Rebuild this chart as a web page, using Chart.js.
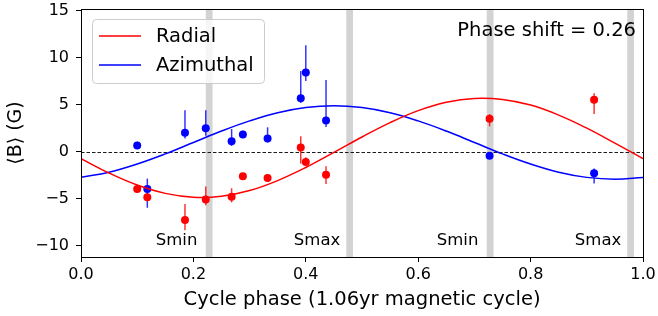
<!DOCTYPE html>
<html>
<head>
<meta charset="utf-8">
<script src="https://cdn.jsdelivr.net/npm/chart.js@4.4.0/dist/chart.umd.min.js"></script>
<style>
  body { margin: 0; background: #fff; }
</style>
</head>
<body>
<canvas id="phaseChart" width="658" height="316"></canvas>
<script>
// observed points (phase, field)
const phases = [0.100, 0.118, 0.185, 0.222, 0.268, 0.288, 0.332, 0.391, 0.400, 0.436, 0.727, 0.913];
const radial = [-3.97, -4.86, -7.27, -5.1, -4.8, -2.62, -2.8, 0.43, -1.1, -2.45, 3.48, 5.5];
const radialErrUp = [0.4, 0.4, 1.7, 1.4, 0.9, 0.3, 0.4, 1.2, 0.5, 0.9, 0.5, 0.7];
const radialErrDown = [0.4, 0.4, 1.1, 0.6, 0.6, 0.3, 0.4, 1.7, 0.4, 1.0, 0.8, 1.5];
const azimuthal = [0.64, -3.97, 1.99, 2.48, 1.1, 1.81, 1.38, 5.67, 8.4, 3.3, -0.43, -2.3];
const azimuthalErrUp = [0.4, 1.1, 2.4, 1.9, 1.3, 0.4, 1.2, 2.9, 2.9, 4.3, 0.3, 0.5];
const azimuthalErrDown = [0.3, 2.0, 0.6, 0.8, 0.5, 0.3, 0.4, 0.5, 0.9, 0.7, 0.3, 1.1];

const fitPhase = [0, 0.05, 0.1, 0.15, 0.2, 0.25, 0.3, 0.35, 0.4, 0.45, 0.5, 0.55, 0.6, 0.65, 0.7, 0.75, 0.8, 0.85, 0.9, 0.95, 1.0];
const radialFit = [-0.75, -2.28, -3.55, -4.44, -4.85, -4.74, -4.14, -3.08, -1.69, -0.09, 1.55, 3.08, 4.35, 5.24, 5.65, 5.54, 4.94, 3.88, 2.49, 0.9, -0.75];
const azimuthalFit = [-2.74, -2.19, -1.32, -0.24, 0.97, 2.18, 3.26, 4.13, 4.68, 4.87, 4.68, 4.13, 3.26, 2.18, 0.97, -0.24, -1.32, -2.19, -2.74, -2.93, -2.74];

// activity min / max markers
const bandCenters = [0.228, 0.478, 0.728, 0.978];
const bandLabels = ['Smin', 'Smax', 'Smin', 'Smax'];

const xTicks = [0, 0.2, 0.4, 0.6, 0.8, 1.0];
const yTicks = [-10, -5, 0, 5, 10, 15];
const phaseShift = '0.26';

const RED = '#ff0000';
const BLUE = '#0000ff';

Chart.defaults.font.family = "'DejaVu Sans', sans-serif";
Chart.defaults.color = '#000';

const toXY = (xs, ys) => xs.map((x, i) => ({ x: x, y: ys[i] }));

const extrasPlugin = {
  id: 'extras',
  beforeDatasetsDraw(chart) {
    const { ctx, chartArea: a, scales: { x, y } } = chart;
    ctx.save();
    // gray bands
    ctx.fillStyle = '#d3d3d3';
    bandCenters.forEach(c => {
      const x0 = x.getPixelForValue(c - 0.006);
      const x1 = x.getPixelForValue(c + 0.006);
      ctx.fillRect(x0, a.top, x1 - x0, a.bottom - a.top);
    });
    // zero line
    ctx.strokeStyle = '#000';
    ctx.lineWidth = 0.9;
    ctx.setLineDash([3.5, 2]);
    const y0 = Math.round(y.getPixelForValue(0)) + 0.5;
    ctx.beginPath();
    ctx.moveTo(a.left, y0);
    ctx.lineTo(a.right, y0);
    ctx.stroke();
    ctx.setLineDash([]);
    // error bars
    const bars = (vals, up, down, color) => {
      ctx.strokeStyle = color;
      ctx.lineWidth = 1.5;
      phases.forEach((p, i) => {
        const px = x.getPixelForValue(p);
        ctx.beginPath();
        ctx.moveTo(px, y.getPixelForValue(vals[i] + up[i]));
        ctx.lineTo(px, y.getPixelForValue(vals[i] - down[i]));
        ctx.stroke();
      });
    };
    bars(radial, radialErrUp, radialErrDown, 'rgba(255,0,0,0.8)');
    bars(azimuthal, azimuthalErrUp, azimuthalErrDown, 'rgba(0,0,255,0.8)');
    ctx.restore();
  },
  afterDatasetsDraw(chart) {
    const { ctx, chartArea: a, scales: { x } } = chart;
    ctx.save();
    // band labels
    ctx.fillStyle = '#000';
    ctx.font = "16.5px 'DejaVu Sans'";
    ctx.textAlign = 'center';
    ctx.textBaseline = 'middle';
    bandCenters.forEach((c, i) => {
      ctx.fillText(bandLabels[i], x.getPixelForValue(c - 0.058), a.bottom - 16);
    });
    // phase shift note
    ctx.textAlign = 'right';
    ctx.font = "19.5px 'DejaVu Sans'";
    ctx.fillText('Phase shift = ' + phaseShift, a.right - 7, a.top + 22);

    // legend
    const lx = a.left + 11, ly = a.top + 10, lw = 172, lh = 64;
    ctx.fillStyle = 'rgba(255,255,255,0.8)';
    ctx.strokeStyle = '#cccccc';
    ctx.lineWidth = 1;
    ctx.beginPath();
    ctx.roundRect(lx + 0.5, ly + 0.5, lw, lh, 4);
    ctx.fill();
    ctx.stroke();
    const items = chart.data.datasets.filter(d => d.inLegend);
    items.forEach((d, i) => {
      const ry = ly + 17 + i * 29;
      ctx.strokeStyle = d.borderColor;
      ctx.lineWidth = 1.5;
      ctx.beginPath();
      ctx.moveTo(lx + 7, ry);
      ctx.lineTo(lx + 49, ry);
      ctx.stroke();
      ctx.fillStyle = '#000';
      ctx.textAlign = 'left';
      ctx.fillText(d.label, lx + 64, ry + 1);
    });

    // frame
    ctx.strokeStyle = '#000';
    ctx.lineWidth = 1;
    ctx.strokeRect(Math.round(a.left) + 0.5, Math.round(a.top) + 0.5,
      Math.round(a.right - a.left), Math.round(a.bottom - a.top));
    ctx.restore();
  }
};

const ctx = document.getElementById('phaseChart').getContext('2d');

let phaseChart = new Chart(ctx, {
  type: 'line',
  data: {
    datasets: [
      { label: 'Radial', inLegend: true, data: toXY(fitPhase, radialFit), borderColor: RED, borderWidth: 1.5, pointRadius: 0, tension: 0.4, fill: false },
      { label: 'Azimuthal', inLegend: true, data: toXY(fitPhase, azimuthalFit), borderColor: BLUE, borderWidth: 1.5, pointRadius: 0, tension: 0.4, fill: false },
      { label: 'Radial obs', data: toXY(phases, radial), showLine: false, pointRadius: 4, pointBackgroundColor: RED, pointBorderColor: RED, pointBorderWidth: 0 },
      { label: 'Azimuthal obs', data: toXY(phases, azimuthal), showLine: false, pointRadius: 4, pointBackgroundColor: BLUE, pointBorderColor: BLUE, pointBorderWidth: 0 }
    ]
  },
  options: {
    responsive: false,
    animation: false,
    devicePixelRatio: 1,
    layout: { padding: { left: 0, right: 15, top: 9, bottom: 0 } },
    plugins: { legend: { display: false }, tooltip: { enabled: false } },
    scales: {
      x: {
        type: 'linear', min: 0, max: 1,
        afterBuildTicks: s => { s.ticks = xTicks.map(v => ({ value: v })); },
        afterFit: s => { s.height = 59; s.paddingLeft = 0; s.paddingRight = 0; },
        grid: { display: true, drawOnChartArea: false, drawTicks: true, tickLength: 5, color: '#000' },
        border: { display: true, color: '#000' },
        ticks: { font: { size: 16 }, padding: 3, maxRotation: 0, callback: v => v.toFixed(1) },
        title: { display: true, text: 'Cycle phase (1.06yr magnetic cycle)', font: { size: 19.5 }, padding: { top: 0, bottom: 4 } }
      },
      y: {
        type: 'linear', min: -11.2, max: 15.15,
        afterBuildTicks: s => { s.ticks = yTicks.map(v => ({ value: v })); },
        afterFit: s => { s.width = 81; s.paddingTop = 0; s.paddingBottom = 0; },
        grid: { display: true, drawOnChartArea: false, drawTicks: true, tickLength: 5, color: '#000' },
        border: { display: true, color: '#000' },
        ticks: { font: { size: 16 }, padding: 7, callback: v => v < 0 ? '\u2212' + Math.abs(v) : String(v) },
        title: { display: true, text: '\u27e8B\u27e9 (G)', font: { size: 19 }, padding: { top: 5, bottom: 0 } }
      }
    }
  },
  plugins: [extrasPlugin]
});
</script>
</body>
</html>
